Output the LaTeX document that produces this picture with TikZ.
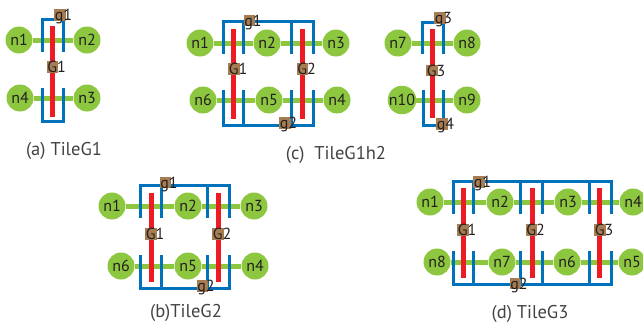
\documentclass[tikz,border=0pt]{standalone}
\usepackage{fontspec}
\setmainfont{PT Sans}
\usetikzlibrary{calc}
\definecolor{ngreen}{RGB}{141,198,63}
\definecolor{bred}{RGB}{237,28,36}
\definecolor{bblue}{RGB}{0,114,188}
\definecolor{lbrown}{RGB}{166,124,82}
\definecolor{txt}{RGB}{35,31,32}
\tikzset{
 nd/.style={circle, fill=ngreen, minimum size=27pt, inner sep=0pt, font=\fontsize{16}{16}\selectfont, text=txt},
 gl/.style={draw=ngreen, line width=5pt},
 rb/.style={draw=bred, line width=5pt},
 bb/.style={draw=bblue, line width=3pt},
 captxt/.style={font=\fontsize{18.5}{18.5}\selectfont, text=txt!85!white, inner sep=0pt},
 lb/.style={fill=lbrown, minimum width=11.5pt, minimum height=11.5pt, inner sep=0pt},
 lt/.style={font=\fontsize{16}{16}\selectfont, text=txt, inner sep=0pt, anchor=base west},
}
\newcommand{\glab}[4]{%
 \node[lb] (#1) at (#2) {};
 \node[lt] (#1t) at ($(#1.south west)+(0.6,0)$) {#3#4};
}
\begin{document}
\begin{tikzpicture}[x=1pt,y=-1pt]
\useasboundingbox (0,0) rectangle (643,324);
% ================= (a) TileG1
\node[nd] (a1) at (19,40) {n1};
\node[nd] (a2) at (87,40) {n2};
\node[nd] (a4) at (20,98) {n4};
\node[nd] (a3) at (87,98) {n3};
\draw[gl] (a1) -- (a2);
\draw[gl] (a4) -- (a3);
\draw[rb] (52.5,26) -- (52.5,117);
\draw[bb] (42,52) -- (42,19) -- (63,19) -- (63,52);
\draw[bb] (42,88) -- (42,121) -- (63,121) -- (63,88);
\glab{ag1}{60,15}{g}{1}
\glab{aG1}{52.5,67}{G}{1}
\node[captxt] (capa) at (64,151) {(a) TileG1};
% ================= (c) TileG1h2
\node[nd] (c1) at (200,43) {n1};
\node[nd] (c2) at (267,43) {n2};
\node[nd] (c3) at (336,43) {n3};
\node[nd] (c6) at (203,100) {n6};
\node[nd] (c5) at (269,100) {n5};
\node[nd] (c4) at (337,100) {n4};
\draw[gl] (c1) -- (c2);
\draw[gl] (c2) -- (c3);
\draw[gl] (c6) -- (c5);
\draw[gl] (c5) -- (c4);
\draw[rb] (233,29) -- (233,119);
\draw[rb] (302,29) -- (302,119);
\draw[bb] (223,54) -- (223,21) -- (313,21) -- (313,54);
\draw[bb] (243,21) -- (243,54) (291,21) -- (291,54);
\draw[bb] (223,90) -- (223,125) -- (313,125) -- (313,90);
\draw[bb] (243,125) -- (243,90) (291,125) -- (291,90);
\glab{cg1}{249.5,20.5}{g}{1}
\glab{cG1}{234,69}{G}{1}
\glab{cG2}{302.5,69}{G}{2}
\glab{cg2}{285,123}{g}{2}
% second part
\node[nd] (c7) at (398,43) {n7};
\node[nd] (c8) at (467,43) {n8};
\node[nd] (c10) at (402,100) {n10};
\node[nd] (c9) at (467,100) {n9};
\draw[gl] (c7) -- (c8);
\draw[gl] (c10) -- (c9);
\draw[rb] (432.5,29) -- (432.5,118);
\draw[bb] (422,54) -- (422,22) -- (443,22) -- (443,54);
\draw[bb] (423,90) -- (423,125) -- (443,125) -- (443,90);
\glab{cg3}{440,18}{g}{3}
\glab{cG3}{432,70.5}{G}{3}
\glab{cg4}{442,124}{g}{4}
\node[captxt] (capc) at (336,155) {(c)\ \ TileG1h2};
% ================= (b) TileG2
\node[nd] (b1) at (112,206) {n1};
\node[nd] (b2) at (188,206) {n2};
\node[nd] (b3) at (254,206) {n3};
\node[nd] (b6) at (121,266) {n6};
\node[nd] (b5) at (188,266) {n5};
\node[nd] (b4) at (255,266) {n4};
\draw[gl] (b1) -- (b2);
\draw[gl] (b2) -- (b3);
\draw[gl] (b6) -- (b5);
\draw[gl] (b5) -- (b4);
\draw[rb] (151,193) -- (151,282);
\draw[rb] (218,193) -- (218,282);
\draw[bb] (140,218) -- (140,185) -- (229,185) -- (229,218);
\draw[bb] (161,185) -- (161,218) (207,185) -- (207,218);
\draw[bb] (140,255) -- (140,288) -- (229,288) -- (229,255);
\draw[bb] (161,288) -- (161,255) (207,288) -- (207,255);
\glab{bg1}{165.5,182.5}{g}{1}
\glab{bG1}{151,234}{G}{1}
\glab{bG2}{218,234}{G}{2}
\glab{bg2}{202.5,286}{g}{2}
\node[captxt] (capb) at (186,313) {(b)TileG2};
% ================= (d) TileG3
\node[nd] (d1) at (430,202) {n1};
\node[nd] (d2) at (500,202) {n2};
\node[nd] (d3) at (568,202) {n3};
\node[nd] (d4) at (633,202) {n4};
\node[nd] (d8) at (437,262) {n8};
\node[nd] (d7) at (502,262) {n7};
\node[nd] (d6) at (567,262) {n6};
\node[nd] (d5) at (632,262) {n5};
\draw[gl] (d1) -- (d2);
\draw[gl] (d2) -- (d3);
\draw[gl] (d3) -- (d4);
\draw[gl] (d8) -- (d7);
\draw[gl] (d7) -- (d6);
\draw[gl] (d6) -- (d5);
\draw[rb] (463,188) -- (463,278);
\draw[rb] (532,188) -- (532,278);
\draw[rb] (599,188) -- (599,278);
\draw[bb] (453,214) -- (453,181) -- (611,181) -- (611,214);
\draw[bb] (473,181) -- (473,214) (520,181) -- (520,214) (542,181) -- (542,214) (589,181) -- (589,214);
\draw[bb] (453,251) -- (453,284) -- (611,284) -- (611,251);
\draw[bb] (473,284) -- (473,251) (520,284) -- (520,251) (542,284) -- (542,251) (589,284) -- (589,251);
\glab{dg1}{479,182}{g}{1}
\glab{dG1}{463,230}{G}{1}
\glab{dG2}{531.5,230}{G}{2}
\glab{dG3}{600,230}{G}{3}
\glab{dg2}{515.5,283.5}{g}{2}
\node[captxt] (capd) at (530,314) {(d) TileG3};
\end{tikzpicture}
\end{document}
